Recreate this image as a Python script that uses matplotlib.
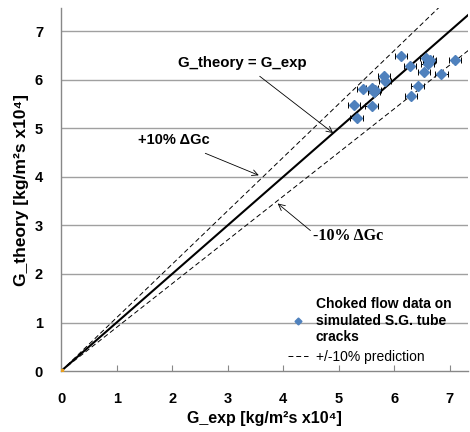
import matplotlib
matplotlib.use("Agg")
import matplotlib.pyplot as plt
import numpy as np

plt.rcParams['font.family'] = ['Liberation Sans', 'DejaVu Sans']

# data (G_exp, G_theory) in kg/m2s x1e4
g_exp = [6.12, 6.28, 6.58, 6.62, 6.65, 6.60, 7.09, 6.53, 6.85, 5.82, 5.84,
         6.42, 5.43, 5.60, 5.63, 5.66, 6.30, 5.28, 5.59, 5.32]
g_theory = [6.49, 6.28, 6.45, 6.38, 6.40, 6.33, 6.40, 6.15, 6.12, 6.08, 5.97,
            5.87, 5.80, 5.82, 5.75, 5.78, 5.66, 5.47, 5.46, 5.20]
x_err = 0.11
line_ends = [0, 7.5]
x_ticks = [0, 1, 2, 3, 4, 5, 6, 7]
y_ticks = [0, 1, 2, 3, 4, 5, 6, 7]

fig = plt.figure(figsize=(4.70, 4.32), dpi=100)
ax = fig.add_axes([0.130, 0.141, 0.866, 0.840])
ax.set_xlim(0, 7.33)
ax.set_ylim(0, 7.47)

for v in y_ticks[1:]:
    ax.axhline(v, color='#a0a0a0', lw=1.0, zorder=0)

le = np.array(line_ends)
ax.plot(le, le, color='black', lw=1.5, zorder=2)
ax.plot(le, 1.1 * le, color='black', lw=0.7, ls=(0, (5, 3)), zorder=2)
ax.plot(le, 0.9 * le, color='black', lw=0.7, ls=(0, (5, 3)), zorder=2,
        label='+/-10% prediction')

ax.errorbar(g_exp, g_theory, xerr=x_err, fmt='none', ecolor='black',
            elinewidth=0.7, capsize=2.5, capthick=0.7, zorder=3)
ax.plot(g_exp, g_theory, ls='none', marker='D', ms=5, color='#4F81BD',
        zorder=4, label='Choked flow data on\nsimulated S.G. tube\ncracks')
ax.plot([0], [0], ls='none', marker='s', ms=2.5, color='#E8A020', zorder=5)

for s in ['top', 'right']:
    ax.spines[s].set_visible(False)
for s in ['left', 'bottom']:
    ax.spines[s].set_color('#888888')
    ax.spines[s].set_linewidth(1.0)

ax.set_xticks(x_ticks)
ax.set_yticks(y_ticks)
ax.tick_params(axis='x', direction='in', length=4, color='#888888', pad=15,
               labelsize=10.5)
ax.tick_params(axis='y', length=0, pad=13, labelsize=10.5)
for t in ax.get_xticklabels() + ax.get_yticklabels():
    t.set_fontweight('bold')

ax.set_xlabel('G_exp [kg/m²s x10⁴]', fontsize=11.5, fontweight='bold', labelpad=4)
ax.set_ylabel('G_theory [kg/m²s x10⁴]', fontsize=12.5, fontweight='bold')
ax.yaxis.set_label_coords(-0.078, 0.5)

ax.annotate('G_theory = G_exp', xy=(4.90, 4.90), xytext=(3.27, 6.34),
            ha='center', va='center', fontsize=10.8, fontweight='bold',
            arrowprops=dict(arrowstyle='->', color='black', lw=0.6,
                            shrinkA=4, shrinkB=0))
ax.annotate('+10% ΔGc', xy=(3.56, 4.03), xytext=(2.03, 4.75),
            ha='center', va='center', fontsize=10.5, fontweight='bold',
            arrowprops=dict(arrowstyle='->', color='black', lw=0.6,
                            shrinkA=6, shrinkB=0))
ax.annotate('-10% ΔGc', xy=(3.90, 3.45), xytext=(4.54, 2.78),
            ha='left', va='center', fontsize=11.5, fontweight='bold',
            family=['Liberation Serif', 'DejaVu Serif'],
            arrowprops=dict(arrowstyle='->', color='black', lw=0.6,
                            shrinkA=0, shrinkB=0, relpos=(0, 0.7)))

h, l = ax.get_legend_handles_labels()
leg = ax.legend([h[1], h[0]], [l[1], l[0]], loc='lower right',
                bbox_to_anchor=(0.99, -0.015), frameon=False, fontsize=10,
                handlelength=1.4, handletextpad=0.6, labelspacing=0.45,
                markerscale=0.7)
leg.get_texts()[0].set_fontweight('bold')

fig.savefig('out.png', dpi=100)
